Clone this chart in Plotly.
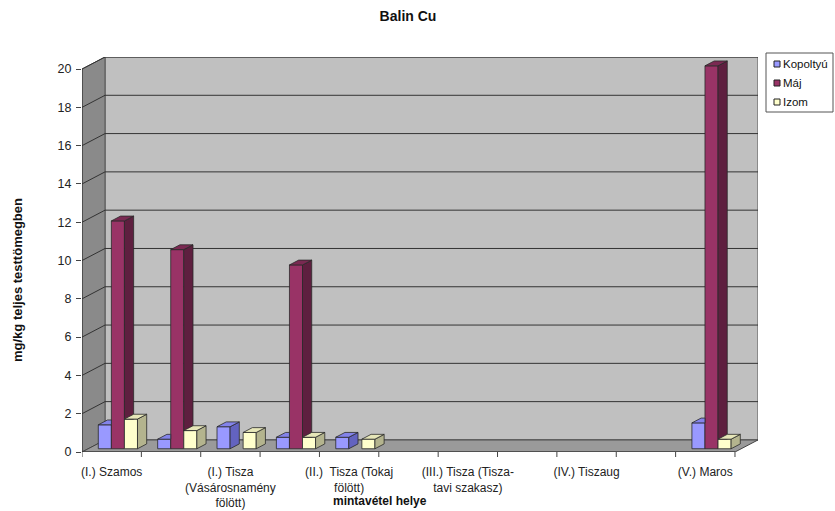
import plotly.graph_objects as go

# ---- data -------------------------------------------------------------
site_labels = [
    "(I.) Szamos", "",
    "(I.) Tisza<br>(Vásárosnamény<br>fölött)", "",
    "(II.)  Tisza (Tokaj<br>fölött)", "",
    "(III.) Tisza (Tisza-<br>tavi szakasz)", "",
    "(IV.) Tiszaug", "",
    "(V.) Maros",
]
kopoltyu = [1.25, 0.5, 1.15, 0.6, 0.6, None, None, None, None, None, 1.35]
maj = [11.9, 10.4, None, 9.6, None, None, None, None, None, None, 20.0]
izom = [1.55, 0.95, 0.85, 0.6, 0.5, None, None, None, None, None, 0.5]
series_names = ["Kopoltyú", "Máj", "Izom"]
y_ticks = list(range(0, 21, 2))

# ---- styling / oblique projection geometry -----------------------------
W_PX, H_PX = 835, 511
M_L, M_R, M_T, M_B = 82, 77, 57, 59
N = len(site_labels)
YMAX = 20
DX = 0.388          # depth offset of the back wall, in category units
DY = 0.63           # depth offset of the back wall, in value units
F0, F1 = 0.27, 0.67  # front / back depth fraction of the columns
W = 0.22            # column width
GAP = 0.17          # space left of each cluster
BDX, BDY = (F1 - F0) * DX, (F1 - F0) * DY
BASE = F0 * DY

front_cols = ["#9999FF", "#993366", "#FFFFCC"]
top_cols = ["#8383EA", "#7A2952", "#E6E6B8"]
side_cols = ["#6363C0", "#5E1F3F", "#B4B48E"]
EDGE = "#2A2A2A"
FONT = "Liberation Sans, Arial, sans-serif"

series_vals = [kopoltyu, maj, izom]


def clip_above(poly, yc):
    """Keep the part of a convex polygon with y >= yc."""
    out = []
    n = len(poly)
    for k in range(n):
        p, q = poly[k], poly[(k + 1) % n]
        pin, qin = p[1] >= yc, q[1] >= yc
        if pin:
            out.append(p)
        if pin != qin:
            t = (yc - p[1]) / (q[1] - p[1])
            out.append((p[0] + t * (q[0] - p[0]), yc))
    return out


fig = go.Figure()

# front faces of the columns
for s, vals in enumerate(series_vals):
    xs, ys = [], []
    for i, v in enumerate(vals):
        if v is None:
            continue
        xs.append(i + GAP + s * W + F0 * DX + W / 2)
        ys.append(v)
    fig.add_trace(go.Bar(
        x=xs, y=ys, base=BASE, width=W, name=series_names[s],
        marker=dict(color=front_cols[s], line=dict(color=EDGE, width=0.8)),
        showlegend=False,
    ))

# side and top faces
for s, vals in enumerate(series_vals):
    sx, sy, tx, ty = [], [], [], []
    for i, v in enumerate(vals):
        if v is None:
            continue
        xl = i + GAP + s * W + F0 * DX
        xr = xl + W
        T = v + BASE
        side = [(xr, BASE), (xr + BDX, BASE + BDY), (xr + BDX, T + BDY), (xr, T)]
        top = [(xl, T), (xr, T), (xr + BDX, T + BDY), (xl + BDX, T + BDY)]
        nb = series_vals[s + 1][i] if s + 1 < len(series_vals) else None
        if nb is not None:
            Tn = nb + BASE
            side = clip_above(side, Tn)
            if Tn > T:
                top = [(xl, T), (xr, T), (xr, T + BDY), (xl + BDX, T + BDY)]
        for poly, X, Y in ((side, sx, sy), (top, tx, ty)):
            if len(poly) < 3:
                continue
            X.extend([p[0] for p in poly] + [poly[0][0], None])
            Y.extend([p[1] for p in poly] + [poly[0][1], None])
    for X, Y, col in ((sx, sy, side_cols[s]), (tx, ty, top_cols[s])):
        fig.add_trace(go.Scatter(
            x=X, y=Y, mode="lines", fill="toself", fillcolor=col,
            line=dict(color=EDGE, width=0.8), hoverinfo="skip", showlegend=False,
        ))

# ---- walls, floor and gridlines ----------------------------------------
PW = W_PX - M_L - M_R
PH = H_PX - M_T - M_B

shapes = []
wall_line = dict(color="#333333", width=1)
# back wall
shapes.append(dict(type="rect", x0=DX, x1=N + DX, y0=DY, y1=YMAX + DY,
                   fillcolor="#C0C0C0", line=dict(color="#555555", width=1), layer="below"))
# left wall
shapes.append(dict(type="path",
                   path=f"M0,0 L{DX},{DY} L{DX},{YMAX + DY} L0,{YMAX} Z",
                   fillcolor="#8A8A8A", line=dict(color="#555555", width=1), layer="below"))
# floor
shapes.append(dict(type="path",
                   path=f"M0,0 L{N},0 L{N + DX},{DY} L{DX},{DY} Z",
                   fillcolor="#9A9A9A", line=dict(color="#444444", width=1), layer="below"))
for v in y_ticks[1:]:
    shapes.append(dict(type="line", x0=DX, x1=N + DX, y0=v + DY, y1=v + DY,
                       line=wall_line, layer="below"))
    shapes.append(dict(type="line", x0=0, x1=DX, y0=v, y1=v + DY,
                       line=wall_line, layer="below"))
# front edges (value axis line and category axis line)
shapes.append(dict(type="line", x0=0, x1=0, y0=0, y1=YMAX,
                   line=dict(color="#333333", width=1)))
shapes.append(dict(type="line", x0=0, x1=N, y0=0, y1=0,
                   line=dict(color="#333333", width=1)))
# category boundary tick marks below the front edge
for b in range(N + 1):
    shapes.append(dict(type="line", xref="x", yref="paper", x0=b, x1=b,
                       y0=0, y1=-5 / PH, line=dict(color="#444444", width=1)))


# ---- legend (drawn by hand: small boxed swatches) -----------------------
def px(xp):
    return (xp - M_L) / PW


def py(yp):
    return (H_PX - M_B - yp) / PH


shapes.append(dict(type="rect", xref="paper", yref="paper",
                   x0=px(766), x1=px(833), y0=py(53), y1=py(112),
                   fillcolor="white", line=dict(color="#555555", width=1)))
annotations = []
for k, name in enumerate(series_names):
    yc = 64 + k * 19
    shapes.append(dict(type="rect", xref="paper", yref="paper",
                       x0=px(774), x1=px(780), y0=py(yc + 3), y1=py(yc - 3),
                       fillcolor=front_cols[k], line=dict(color="#222222", width=1)))
    annotations.append(dict(xref="paper", yref="paper", x=px(781), y=py(yc),
                            text=name, showarrow=False, xanchor="left", yanchor="middle",
                            font=dict(family=FONT, size=11.5, color="#111111")))

annotations.append(dict(xref="paper", yref="paper", x=px(380), y=py(501),
                        text="<b>mintavétel helye</b>", showarrow=False,
                        xanchor="center", yanchor="middle",
                        font=dict(family=FONT, size=12, color="#111111")))
annotations.append(dict(xref="paper", yref="paper", x=px(17), y=py(280),
                        text="<b>mg/kg teljes testtömegben</b>", showarrow=False,
                        textangle=-90, xanchor="center", yanchor="middle",
                        font=dict(family=FONT, size=13, color="#111111")))

tick_pos = [i + 0.5 for i, t in enumerate(site_labels) if t]
tick_txt = [t for t in site_labels if t]

fig.update_layout(
    width=W_PX, height=H_PX,
    margin=dict(l=M_L, r=M_R, t=M_T, b=M_B, pad=0),
    paper_bgcolor="white", plot_bgcolor="white",
    barmode="overlay",
    showlegend=False,
    title=dict(text="<b>Balin Cu</b>", x=408 / W_PX, xanchor="center",
               y=1 - 16 / H_PX, yanchor="middle",
               font=dict(family=FONT, size=14, color="#111111")),
    xaxis=dict(range=[0, N + DX], showgrid=False, zeroline=False, showline=False,
               automargin=False,
               tickmode="array", tickvals=tick_pos, ticktext=tick_txt, ticks="",
               ticklabelstandoff=11,
               tickfont=dict(family=FONT, size=12, color="#222222"),
               fixedrange=True),
    yaxis=dict(range=[0, YMAX + DY], showgrid=False, zeroline=False, showline=False,
               automargin=False,
               tickmode="array", tickvals=y_ticks, ticks="outside", ticklen=5,
               tickcolor="#444444", ticklabelstandoff=2,
               tickfont=dict(family=FONT, size=12.5, color="#222222"),
               fixedrange=True),
    shapes=shapes,
    annotations=annotations,
)

fig.write_html("out.html")
